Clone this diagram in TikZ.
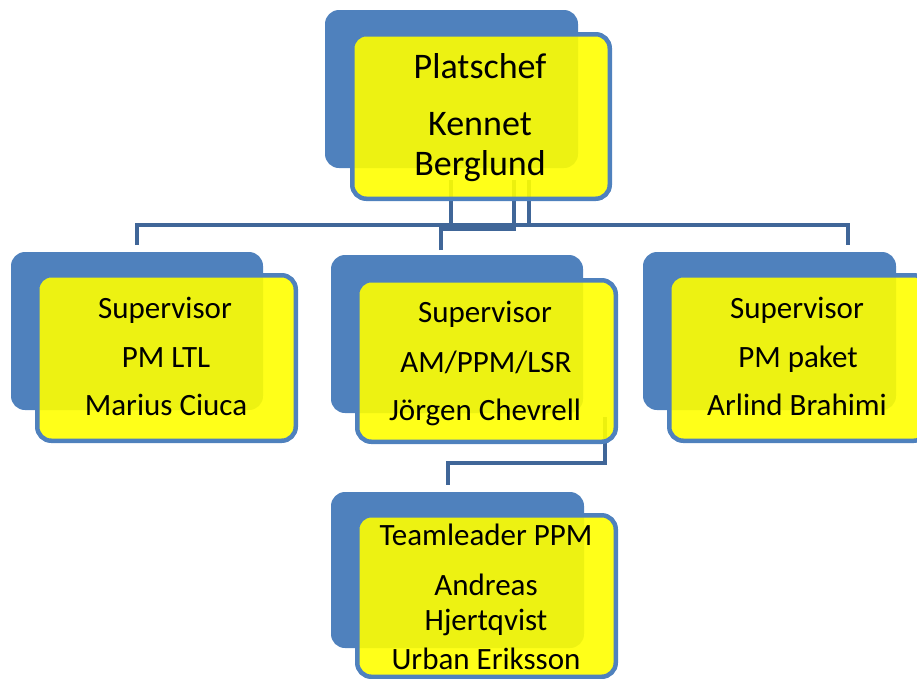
\documentclass[tikz,border=0pt]{standalone}
\usepackage{fontspec}
\setmainfont{Carlito}
\definecolor{boxblue}{RGB}{79,129,189}
\definecolor{lineblue}{RGB}{64,102,152}
\definecolor{yel}{RGB}{255,255,0}
\begin{document}
\begin{tikzpicture}[x=1pt,y=-1pt,
  back/.style={fill=boxblue, draw=none, rounded corners=14pt, inner sep=0pt},
  front/.style={fill=yel, fill opacity=0.9, draw=boxblue, line width=4.5pt, rounded corners=14pt, inner sep=0pt},
  conn/.style={draw=lineblue, line width=4pt},
  big/.style={font=\fontsize{36}{40}\selectfont, anchor=base, inner sep=0pt},
  txt/.style={font=\fontsize{31}{36}\selectfont, anchor=base, inner sep=0pt}]
\useasboundingbox (0,0) rectangle (917,678);
\begin{scope}
\clip (0,0) rectangle (917,678);
% back boxes
\node[back, minimum width=253pt, minimum height=158pt] (topB) at (451.5,89) {};
\node[back, minimum width=252pt, minimum height=158pt] (leftB) at (137,331) {};
\node[back, minimum width=252pt, minimum height=158pt] (midB) at (457,334) {};
\node[back, minimum width=253pt, minimum height=158pt] (rightB) at (769.5,331) {};
\node[back, minimum width=253pt, minimum height=156pt] (botB) at (457.5,570) {};
% connector points
\coordinate (tA) at (529,180);
\coordinate (tB) at (451,180);
\coordinate (tC) at (514,180);
\coordinate (busL) at (137,225);
\coordinate (busR) at (848,225);
\coordinate (busM) at (529,225);
\coordinate (lEnd) at (137,245);
\coordinate (rEnd) at (848,245);
\coordinate (jR) at (514,229);
\coordinate (mEnd) at (441,250);
\coordinate (bS) at (605,417);
\coordinate (bM) at (605,463);
\coordinate (bE) at (448,485);
% connectors
\draw[conn] (lEnd) -- (busL) -- (busR) -- (rEnd);
\draw[conn] (tA) -- (busM);
\draw[conn] (mEnd) |- (jR) -- (tC);
\draw[conn] (tB) -- (tB |- jR);
\draw[conn] (bS) -- (bM) -| (bE);
% front boxes
\node[front, minimum width=257.5pt, minimum height=164.5pt] (topF) at (481,116.5) {};
\node[front, minimum width=258.5pt, minimum height=165.5pt] (leftF) at (166.5,358) {};
\node[front, minimum width=258.5pt, minimum height=161.5pt] (midF) at (486.5,361) {};
\node[front, minimum width=258.5pt, minimum height=165.5pt] (rightF) at (798.5,358) {};
\node[front, minimum width=258.5pt, minimum height=161.5pt] (botF) at (486.5,596) {};
% texts
\node[big] (t1) at (480,78) {Platschef};
\node[big] (t2) at (480,135) {Kennet};
\node[big] (t3) at (480,175) {Berglund};
\node[txt] (l1) at (165,318) {Supervisor};
\node[txt] (l2) at (166,367) {PM LTL};
\node[txt] (l3) at (166,415) {Marius Ciuca};
\node[txt] (m1) at (485,322) {Supervisor};
\node[txt] (m2) at (486,372) {AM/PPM/LSR};
\node[txt] (m3) at (485,420) {Jörgen Chevrell};
\node[txt] (r1) at (797,318) {Supervisor};
\node[txt] (r2) at (798,367) {PM paket};
\node[txt] (r3) at (797,415) {Arlind Brahimi};
\node[txt] (b1) at (486,545) {Teamleader PPM};
\node[txt] (b2) at (486,595) {Andreas};
\node[txt] (b3) at (486,630) {Hjertqvist};
\node[txt] (b4) at (486,669) {Urban Eriksson};
\end{scope}
\end{tikzpicture}
\end{document}
